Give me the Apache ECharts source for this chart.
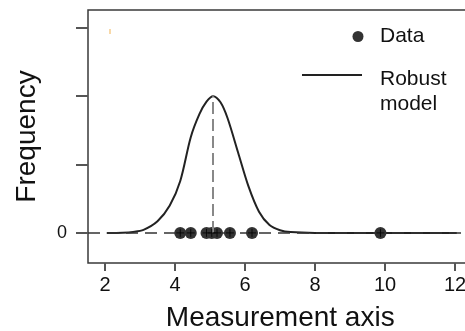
<!DOCTYPE html>
<html>
<head>
<meta charset="utf-8">
<script src="https://cdn.jsdelivr.net/npm/echarts@6/dist/echarts.min.js"></script>
<style>
html,body{margin:0;padding:0;background:#fff;}
#chart{width:465px;height:331px;}
</style>
</head>
<body>
<div id="chart"></div>
<script>
// Observations (measurements), all drawn at frequency 0
var dataX = [4.15, 4.45, 4.9, 5.05, 5.2, 5.57, 6.2, 9.87];
// Robust model curve
var curveX = [2.05, 2.5, 2.8, 3.1, 3.5, 3.85, 4.15, 4.45, 4.7, 4.9, 5.09, 5.3, 5.5, 5.8, 6.1, 6.4, 6.7, 7.0, 7.3, 8, 9, 10, 11, 12.05];
var curveY = [0.0, 0.004, 0.015, 0.045, 0.17, 0.40, 0.76, 1.40, 1.74, 1.92, 2.0, 1.91, 1.68, 1.18, 0.68, 0.31, 0.115, 0.04, 0.012, 0, 0, 0, 0, 0];
var modelCenter = 5.09;
var modelPeak = 2.0;
var xTicks = [2, 4, 6, 8, 10, 12];
var yTicks = [0, 1, 2, 3];
var yLabels = [0];
var xTitle = 'Measurement axis';
var yTitle = 'Frequency';
var legendData = 'Data';
var legendModel = 'Robust\nmodel';

var FONT = '"Liberation Sans", Arial, sans-serif';
var chart = echarts.init(document.getElementById('chart'), null, {renderer: 'canvas'});

var points = dataX.map(function (x) { return [x, 0]; });
var curve = curveX.map(function (x, i) { return [x, curveY[i]]; });

chart.setOption({
  animation: false,
  backgroundColor: '#fff',
  grid: {
    left: 88, top: 10, right: -7.5, bottom: 68,
    outerBoundsMode: 'none', containLabel: false,
    show: true, borderColor: '#3a3a3a', borderWidth: 1.5, backgroundColor: 'transparent'
  },
  xAxis: {
    type: 'value', min: 1.514, max: 12.5,
    name: xTitle, nameLocation: 'middle', nameGap: 41,
    nameTextStyle: {fontFamily: FONT, fontSize: 28, color: '#111'},
    axisLine: {show: false, onZero: false},
    axisTick: {show: true, length: 8, customValues: xTicks, lineStyle: {color: '#555', width: 2}},
    axisLabel: {customValues: xTicks, fontFamily: FONT, fontSize: 20, color: '#111', margin: 12},
    splitLine: {show: false}
  },
  yAxis: {
    type: 'value', min: -0.44, max: 3.26,
    name: yTitle, nameLocation: 'middle', nameGap: 47, nameRotate: 90,
    nameTextStyle: {fontFamily: FONT, fontSize: 28, color: '#111'},
    axisLine: {show: false, onZero: false},
    axisTick: {show: true, length: 12, customValues: yTicks, lineStyle: {color: '#555', width: 2}},
    axisLabel: {customValues: yLabels, fontFamily: FONT, fontSize: 18, color: '#111', margin: 21},
    splitLine: {show: false}
  },
  series: [
    {
      type: 'line', data: curve, smooth: 0.3, showSymbol: false, symbol: 'none',
      lineStyle: {color: '#222', width: 2},
      z: 3,
      markLine: {
        silent: true, symbol: 'none', label: {show: false},
        data: [
          {yAxis: 0, lineStyle: {color: '#333', width: 1.5, type: [12, 7]}},
          [{coord: [modelCenter, 0]}, {coord: [modelCenter, modelPeak]}]
        ],
        lineStyle: {color: '#888', width: 2, type: [12, 5]}
      }
    },
    {
      type: 'scatter', data: points, symbol: 'circle', symbolSize: 12,
      itemStyle: {color: '#333', opacity: 1}, z: 4
    },
    {
      type: 'scatter', data: points, symbol: 'path://M0,5L10,5M5,0L5,10', symbolSize: 8,
      itemStyle: {color: 'transparent', borderColor: '#000', borderWidth: 1}, z: 5
    }
  ],
  graphic: [
    {type: 'circle', shape: {cx: 358, cy: 36.5, r: 5.5}, style: {fill: '#333'}},
    {type: 'text', x: 380, y: 36, style: {text: legendData, font: '21px ' + FONT, fill: '#111', verticalAlign: 'middle', align: 'left'}},
    {type: 'line', shape: {x1: 302, y1: 75, x2: 362, y2: 75}, style: {stroke: '#222', lineWidth: 2}},
    {type: 'text', x: 380, y: 92, style: {text: legendModel, font: '21px ' + FONT, lineHeight: 25, fill: '#111', verticalAlign: 'middle', align: 'left'}},
    {type: 'line', shape: {x1: 110, y1: 29, x2: 110, y2: 34}, style: {stroke: '#f6cc8c', lineWidth: 1.5}}
  ]
});
</script>
</body>
</html>
